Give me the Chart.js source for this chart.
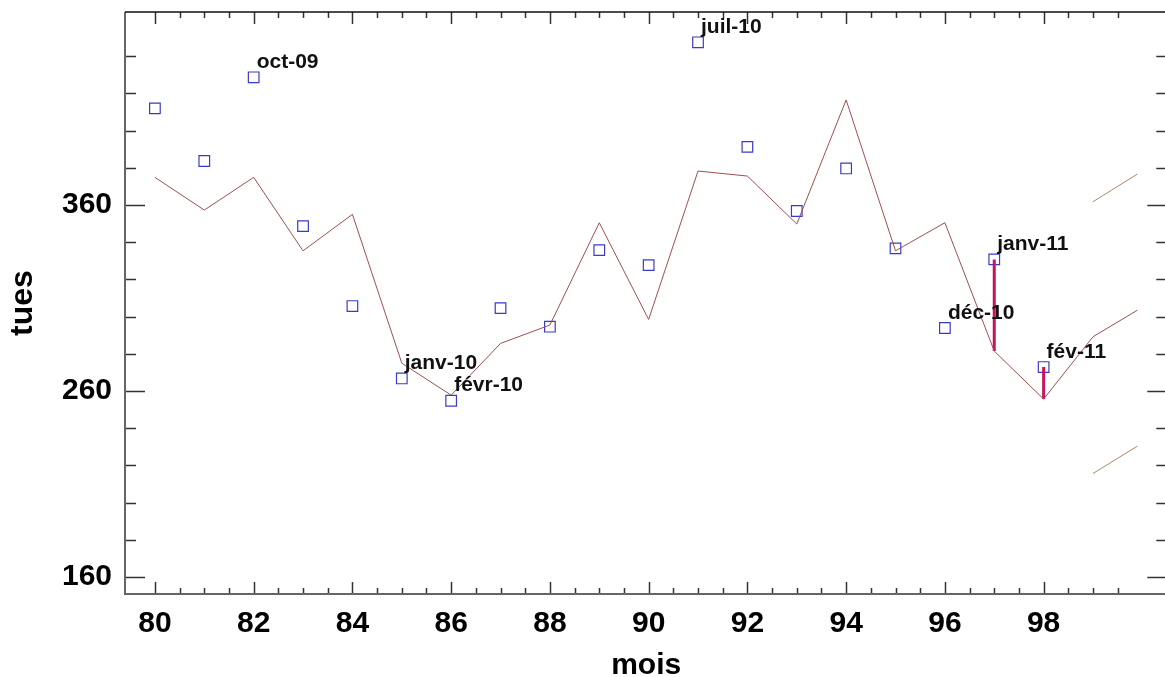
<!DOCTYPE html>
<html>
<head>
<meta charset="utf-8">
<script src="https://cdn.jsdelivr.net/npm/chart.js@4.4.1/dist/chart.umd.min.js"></script>
<style>
  html, body { margin: 0; padding: 0; background: #fff; overflow: hidden; }
  #wrap { width: 1176px; height: 677px; }
</style>
</head>
<body>
<div id="wrap"><canvas id="chart" width="1176" height="677"></canvas></div>
<script>
// observed monthly values (blue squares)
const months = [80, 81, 82, 83, 84, 85, 86, 87, 88, 89, 90, 91, 92, 93, 94, 95, 96, 97, 98];
const observed = [412, 383.7, 428.7, 348.7, 305.7, 266.8, 254.8, 304.6, 294.6, 335.8, 327.7, 447.5, 391.3, 356.8, 379.7, 336.7, 293.9, 330.8, 272.9];

// fitted / forecast line
const fitMonths = [80, 81, 82, 83, 84, 85, 86, 87, 88, 89, 90, 91, 92, 93, 94, 95, 96, 97, 98, 99, 99.9];
const fitted = [374.9, 357.3, 374.9, 335.4, 355, 275, 257.8, 285.6, 295.5, 350.5, 298.5, 378.3, 375.6, 349.8, 416.5, 335.4, 350.5, 281.5, 255.7, 289.2, 303.5];

// forecast limits
const bandMonths = [99, 99.9];
const upperLimit = [361.8, 376.7];
const lowerLimit = [215.7, 230.4];

// residuals drawn as bars
const outlierMonths = [97, 98];

// point labels
const labelMonths = [82, 85, 86, 91, 96, 97, 98];
const labelTexts = ['oct-09', 'janv-10', 'févr-10', 'juil-10', 'déc-10', 'janv-11', 'fév-11'];

// ticks
const xTickLabels = [80, 82, 84, 86, 88, 90, 92, 94, 96, 98];
const yTickLabels = [160, 260, 360];

const FONT = '"Liberation Sans", Arial, sans-serif';

const valueAt = (xs, ys, m) => ys[xs.indexOf(m)];

const residualSets = outlierMonths.map(m => ({
    type: 'line',
    data: [{ x: m, y: valueAt(fitMonths, fitted, m) }, { x: m, y: valueAt(months, observed, m) }],
    borderColor: '#c8145a',
    borderWidth: 3,
    pointRadius: 0
}));

const frame = {
    id: 'frame',
    afterDatasetsDraw(chart) {
        const { ctx, chartArea: a, scales: { x, y } } = chart;
        ctx.save();

        // inward tick marks on all four sides
        ctx.strokeStyle = '#333';
        ctx.lineWidth = 1.5;
        ctx.beginPath();
        x.ticks.forEach(t => {
            const px = Math.round(x.getPixelForValue(t.value)) + 0.5;
            const len = xTickLabels.includes(t.value) ? 12 : 6;
            ctx.moveTo(px, a.bottom); ctx.lineTo(px, a.bottom - len);
            ctx.moveTo(px, a.top); ctx.lineTo(px, a.top + len);
        });
        y.ticks.forEach(t => {
            const py = Math.round(y.getPixelForValue(t.value)) + 0.5;
            const len = yTickLabels.includes(t.value) ? 20 : 11;
            ctx.moveTo(a.left, py); ctx.lineTo(a.left + len, py);
            ctx.moveTo(a.right, py); ctx.lineTo(a.right - len, py);
        });
        ctx.stroke();

        // box
        ctx.lineWidth = 2;
        ctx.strokeStyle = '#666';
        ctx.beginPath();
        ctx.moveTo(a.left, a.top); ctx.lineTo(a.left, a.bottom); ctx.lineTo(a.right, a.bottom);
        ctx.stroke();
        ctx.strokeStyle = '#111';
        ctx.lineWidth = 1.5;
        ctx.beginPath();
        ctx.moveTo(a.left, a.top); ctx.lineTo(a.right, a.top); ctx.lineTo(a.right, a.bottom);
        ctx.stroke();

        // point labels
        ctx.font = 'bold 21px ' + FONT;
        ctx.fillStyle = '#111';
        ctx.textAlign = 'left';
        ctx.textBaseline = 'alphabetic';
        labelMonths.forEach((m, i) => {
            const px = x.getPixelForValue(m);
            const py = y.getPixelForValue(valueAt(months, observed, m));
            ctx.fillText(labelTexts[i], px + 3, py - 9.5);
        });
        ctx.restore();
    }
};

const ctx = document.getElementById('chart').getContext('2d');
new Chart(ctx, {
    type: 'scatter',
    data: {
        datasets: [
            {
                type: 'line',
                data: fitMonths.map((m, i) => ({ x: m, y: fitted[i] })),
                borderColor: '#9c5050',
                borderWidth: 1,
                pointRadius: 0,
                tension: 0
            },
            {
                type: 'line',
                data: bandMonths.map((m, i) => ({ x: m, y: upperLimit[i] })),
                borderColor: '#a8886a',
                borderWidth: 1,
                pointRadius: 0
            },
            {
                type: 'line',
                data: bandMonths.map((m, i) => ({ x: m, y: lowerLimit[i] })),
                borderColor: '#a8886a',
                borderWidth: 1,
                pointRadius: 0
            },
            ...residualSets,
            {
                data: months.map((m, i) => ({ x: m, y: observed[i] })),
                pointStyle: 'rect',
                pointRadius: 7.5,
                pointBorderWidth: 1.2,
                borderColor: '#3a3acc',
                backgroundColor: 'rgba(0,0,0,0)'
            }
        ]
    },
    options: {
        responsive: false,
        animation: false,
        layout: { padding: { top: 12, right: 6, left: 0, bottom: 0 } },
        plugins: {
            legend: { display: false },
            tooltip: { enabled: false }
        },
        scales: {
            x: {
                type: 'linear',
                min: 79.394,
                max: 100.505,
                afterBuildTicks: s => {
                    const t = [];
                    for (let i = 0; i <= 39; i++) t.push({ value: 80 + i * 0.5 });
                    s.ticks = t;
                },
                afterFit: s => { s.height = 83; s.paddingLeft = 0; s.paddingRight = 0; },
                grid: { display: false, drawTicks: false },
                border: { display: false },
                ticks: {
                    autoSkip: false,
                    maxRotation: 0,
                    padding: 12,
                    color: '#000',
                    font: { family: FONT, size: 30, weight: 'bold' },
                    callback: v => xTickLabels.includes(v) ? String(v) : ''
                },
                title: {
                    display: true,
                    text: 'mois',
                    color: '#000',
                    font: { family: FONT, size: 30, weight: 'bold', lineHeight: 0.9 },
                    padding: { top: 0, bottom: -2 }
                }
            },
            y: {
                type: 'linear',
                min: 150.9,
                max: 463.8,
                afterBuildTicks: s => {
                    const t = [];
                    for (let v = 160; v <= 440; v += 20) t.push({ value: v });
                    s.ticks = t;
                },
                afterFit: s => { s.width = 125; s.paddingTop = 0; s.paddingBottom = 0; },
                grid: { display: false, drawTicks: false },
                border: { display: false },
                ticks: {
                    padding: 13,
                    color: '#000',
                    font: { family: FONT, size: 30, weight: 'bold' },
                    callback: v => yTickLabels.includes(v) ? String(v) : ''
                },
                title: {
                    display: true,
                    text: 'tues',
                    color: '#000',
                    font: { family: FONT, size: 32, weight: 'bold', lineHeight: 0.9 },
                    padding: { top: 9, bottom: 0 }
                }
            }
        }
    },
    plugins: [frame]
});
</script>
</body>
</html>
